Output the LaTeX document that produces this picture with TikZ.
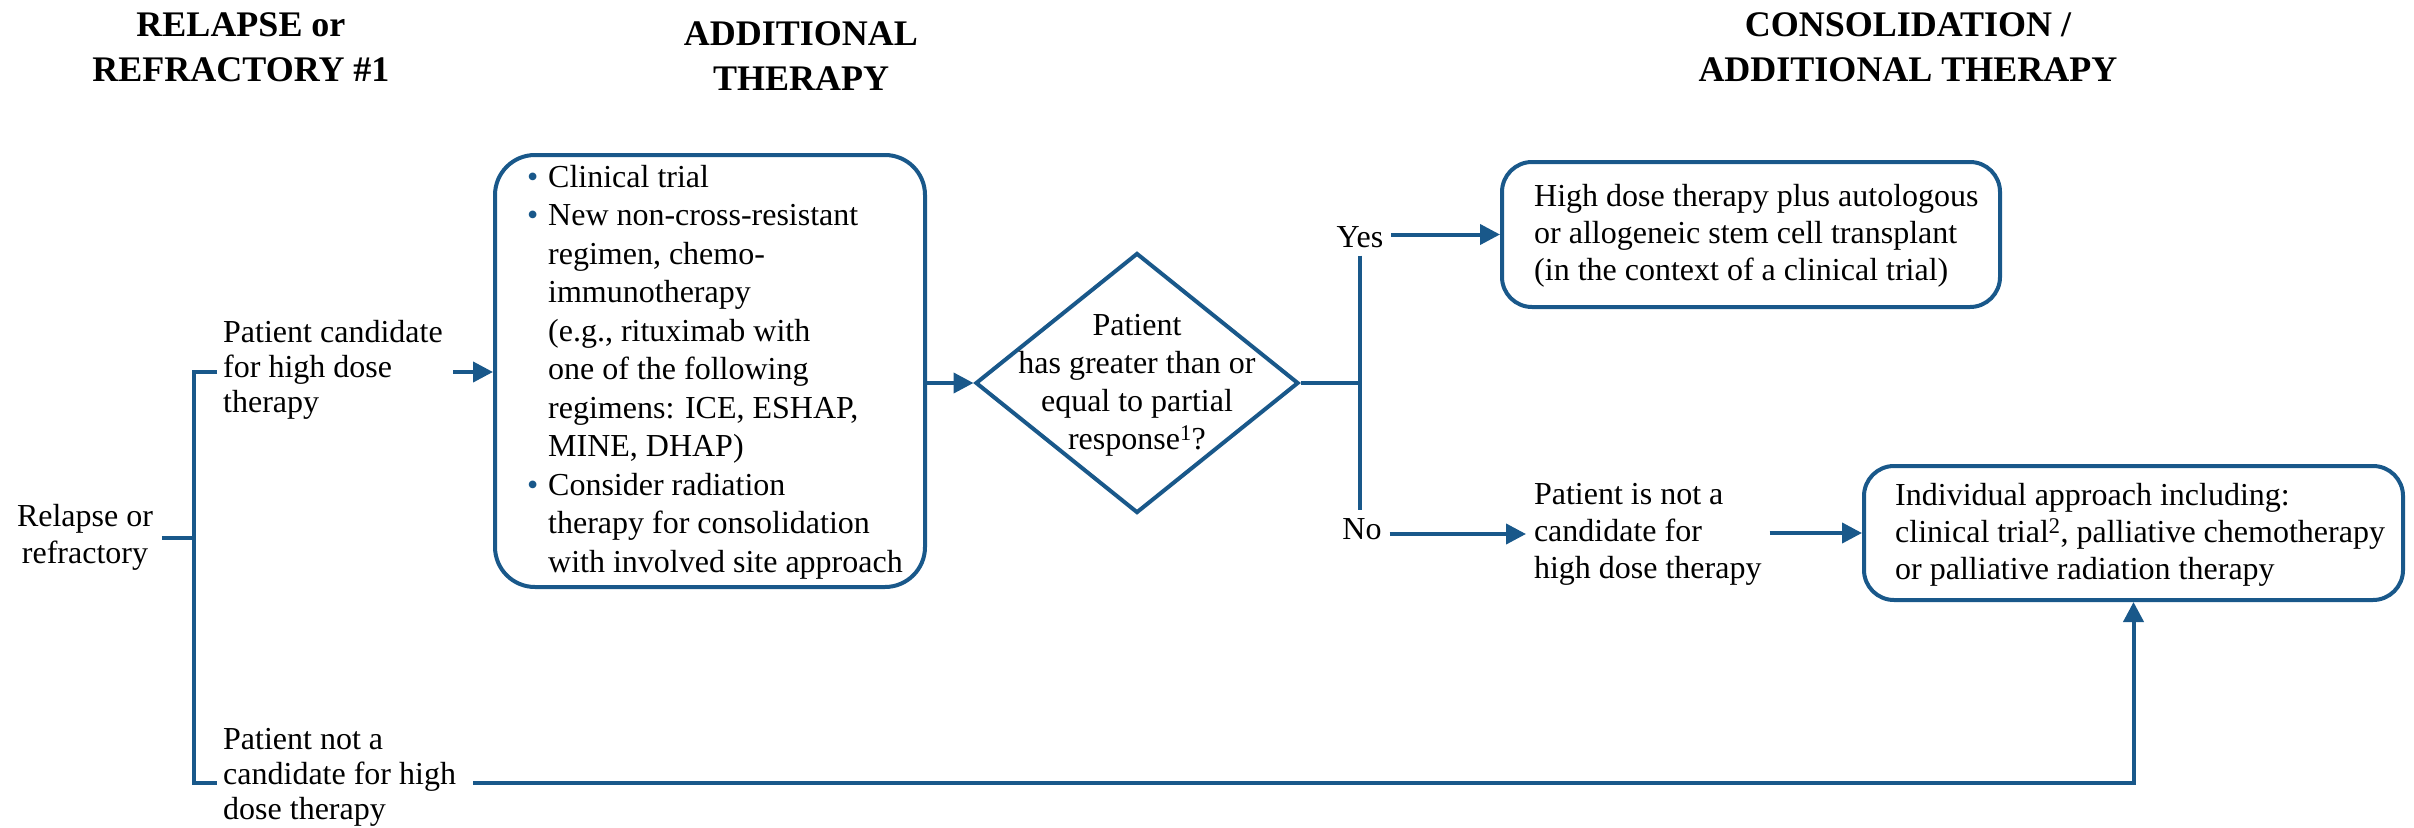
\documentclass[tikz,border=0pt]{standalone}
\usepackage{fontspec}
\setmainfont{Liberation Serif}
\usetikzlibrary{arrows.meta,shapes.geometric}
\definecolor{nccn}{RGB}{25,88,138}
\newcommand{\mybul}{\hbox to 21pt{\textcolor{nccn}{\textbullet}\hss}}
\newcommand{\myind}{\hbox to 21pt{\hss}}
\begin{document}
\begin{tikzpicture}[x=1pt,y=-1pt,
  conn/.style={draw=nccn, line width=4pt},
  arr/.style={conn, -{Triangle[length=20pt,width=20pt]}},
  box/.style={draw=nccn, line width=4pt, rounded corners=30pt, inner sep=0pt, shape=rectangle},
  txt/.style={inner sep=0pt, font=\fontsize{32}{37}\selectfont},
  head/.style={inner sep=0pt, align=center, font=\fontsize{36}{45}\selectfont\bfseries},
]
\useasboundingbox (0,0) rectangle (2414,827);

% headings
\node[head] (h1) at (241,47.5) {RELAPSE or\\REFRACTORY \#1};
\node[head] (h2) at (801,56) {ADDITIONAL\\THERAPY};
\node[head] (h3) at (1908,47) {CONSOLIDATION /\\ADDITIONAL THERAPY};

% boxes
\node[box, minimum width=430pt, minimum height=432pt, rounded corners=40pt] (addl) at (710,371) {};
\node[box, minimum width=498pt, minimum height=145pt] (hdt) at (1751,234.5) {};
\node[box, minimum width=539pt, minimum height=134pt] (indiv) at (2133.5,533) {};
\node[draw=nccn, line width=4pt, diamond, minimum width=323pt, minimum height=260pt, inner sep=0pt] (dec) at (1137,383) {};

% texts
\node[txt, anchor=west, align=left, font=\fontsize{32}{38.5}\selectfont] (addltxt) at (527,372)
 {\mybul Clinical trial\\
  \mybul New non-cross-resistant\\
  \myind regimen, chemo-\\
  \myind immunotherapy\\
  \myind (e.g., rituximab with\\
  \myind one of the following\\
  \myind regimens: ICE, ESHAP,\\
  \myind MINE, DHAP)\\
  \mybul Consider radiation\\
  \myind therapy for consolidation\\
  \myind with involved site approach};
\node[txt, align=center, font=\fontsize{32}{38}\selectfont] (dectxt) at (1137,385)
 {Patient\\has greater than or\\equal to partial\\response\textsuperscript{1}?};
\node[txt, anchor=west, align=left] (hdttxt) at (1534,236)
 {High dose therapy plus autologous\\or allogeneic stem cell transplant\\(in the context of a clinical trial)};
\node[txt, anchor=west, align=left] (indivtxt) at (1895,535)
 {Individual approach including:\\clinical trial\textsuperscript{2}, palliative chemotherapy\\or palliative radiation therapy};
\node[txt, anchor=west, align=left, outer xsep=8pt] (ptnot) at (1526,534)
 {Patient is not a\\candidate for\\high dose therapy};
\node[txt, align=center, outer xsep=9pt] (relapse) at (85,537.5) {Relapse or\\refractory};
\node[txt, anchor=west, align=left, font=\fontsize{32}{35}\selectfont] (cand) at (223,370)
 {Patient candidate\\for high dose\\therapy};
\node[txt, anchor=west, align=left, font=\fontsize{32}{35}\selectfont] (notcand) at (223,777)
 {Patient not a\\candidate for high\\dose therapy};
\node[txt, outer sep=8pt] (yes) at (1360,237) {Yes};
\node[txt, outer sep=8pt] (no) at (1362,529) {No};

% coordinates
\coordinate (spm) at (194,537.5);
\coordinate (spt) at (194,372);
\coordinate (spb) at (194,783);
\coordinate (tl) at (217,372);
\coordinate (bl) at (217,783);
\coordinate (candout) at (453,372);
\coordinate (ncout) at (473,783);

% connectors
\draw[conn] (relapse.east) -- (spm);
\draw[conn] (tl) -- (spt) -- (spb) -- (bl);
\draw[arr] (candout) -- (candout -| addl.west);
\draw[arr] (addl.east |- dec.west) -- (dec.west);
\draw[conn] (dec.east) -- (dec.east -| yes.south);
\draw[conn] (yes.south) -- (yes.south |- no.north);
\draw[arr] (yes.east |- hdt.west) -- (hdt.west);
\draw[arr] (no.east |- ptnot.west) -- (ptnot.west);
\draw[arr] (ptnot.east |- indiv.west) -- (indiv.west);
\draw[arr] (ncout) -| (indiv.south);
\end{tikzpicture}
\end{document}
